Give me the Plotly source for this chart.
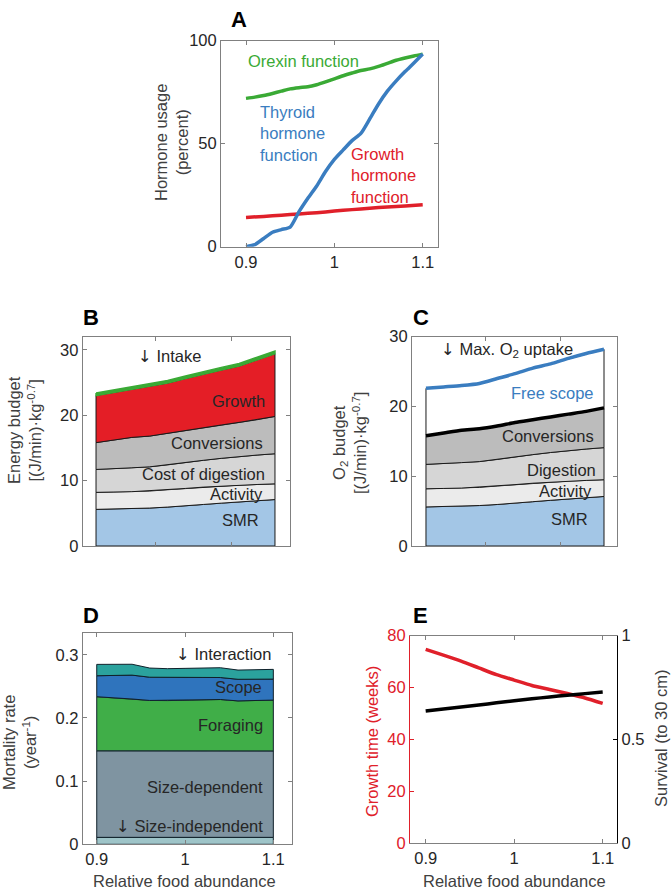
import plotly.graph_objects as go

# ---------------- data ----------------
x21 = [0.90, 0.91, 0.92, 0.93, 0.94, 0.95, 0.96, 0.97, 0.98, 0.99, 1.00,
       1.01, 1.02, 1.03, 1.04, 1.05, 1.06, 1.07, 1.08, 1.09, 1.10]
x11 = [0.90, 0.92, 0.94, 0.96, 0.98, 1.00, 1.02, 1.04, 1.06, 1.08, 1.10]

# Panel A
orexin = [72, 72.6, 73.4, 74.4, 75.5, 76.6, 77.2, 77.6, 78.6, 80, 81.5,
          83, 84.3, 85.5, 86.3, 87.5, 89, 90.5, 91.6, 92.6, 93.5]
thyroid = [0, 1.0, 4, 7, 8.3, 9.5, 17, 23.5, 29.5, 36.5, 42.4,
           47, 51.5, 55, 62, 69.3, 75.5, 80.5, 85, 89.2, 93.5]
growth_h = [14.2, 14.7, 15.3, 15.9, 16.5, 17.3, 18.0, 18.7, 19.3, 19.8, 20.4]

# Panel B (cumulative tops)
smr = [5.6, 5.65, 5.7, 5.8, 5.95, 6.1, 6.35, 6.55, 6.75, 6.95, 7.1]
activity = [8.2, 8.25, 8.3, 8.4, 8.6, 8.8, 9.0, 9.15, 9.3, 9.4, 9.5]
digestion = [11.7, 11.8, 11.95, 12.1, 12.4, 12.8, 13.1, 13.4, 13.7, 13.9, 14.1]
conversions = [15.8, 16.2, 16.6, 16.8, 17.2, 17.7, 18.1, 18.5, 18.9, 19.3, 19.8]
growth_e = [23.0, 23.5, 24.0, 24.4, 24.9, 25.6, 26.3, 26.9, 27.5, 28.4, 29.4]
intake = [23.4, 23.9, 24.4, 24.8, 25.3, 26.0, 26.7, 27.3, 27.9, 28.8, 29.8]

# Panel C
max_o2 = [22.6, 22.8, 23.0, 23.3, 24.0, 24.7, 25.5, 26.1, 26.9, 27.6, 28.2]

# Panel D (cumulative tops)
size_indep = [0.011] * 11
size_dep = [0.1480, 0.1480, 0.1479, 0.1478, 0.1478, 0.1479, 0.1480, 0.1480, 0.1479, 0.1478, 0.1478]
foraging = [0.2336, 0.2318, 0.2300, 0.2277, 0.2275, 0.2280, 0.2288, 0.2292, 0.2270, 0.2278, 0.2283]
scope = [0.2668, 0.2672, 0.2678, 0.2645, 0.2638, 0.2640, 0.2642, 0.2640, 0.2612, 0.2613, 0.2615]
interaction = [0.2848, 0.2845, 0.2850, 0.2790, 0.2780, 0.2785, 0.2792, 0.2795, 0.2758, 0.2765, 0.2769]

# Panel E
growth_time = [74.7, 72.5, 70.2, 67.6, 65.0, 62.9, 60.8, 59.3, 57.7, 56.0, 53.9]
survival = [0.637, 0.647, 0.657, 0.666, 0.677, 0.687, 0.696, 0.705, 0.713, 0.721, 0.729]

FONT = "Liberation Sans, Arial, sans-serif"
TXT = "#262626"
AX = "#808080"
GREEN = "#3aaa35"
BLUE = "#3a7dc0"
RED = "#e0202a"
FS = 16.5
ARROW = '<span style="font-family:DejaVu Sans">↓</span>'

fig = go.Figure()


def band(x, lo, hi, fill, xa, ya, lc="#1a1a1a", lw=1):
    xs = list(x) + list(x[::-1]) + [x[0]]
    ys = list(hi) + list(lo[::-1]) + [hi[0]]
    fig.add_trace(go.Scatter(x=xs, y=ys, mode="lines", fill="toself", fillcolor=fill,
                             line=dict(color=lc, width=lw), xaxis=xa, yaxis=ya,
                             hoverinfo="skip", showlegend=False))


def line(x, y, color, xa, ya, w=3.5):
    fig.add_trace(go.Scatter(x=x, y=y, mode="lines",
                             line=dict(color=color, width=w, shape="spline", smoothing=0.6),
                             xaxis=xa, yaxis=ya, hoverinfo="skip", showlegend=False))


zeros = [0] * 11

# Panel A
line(x21, orexin, GREEN, "x", "y")
line(x11, growth_h, RED, "x", "y")
line(x21, thyroid, BLUE, "x", "y")

# Panel B
band(x11, zeros, smr, "#a3c6e6", "x2", "y2")
band(x11, smr, activity, "#ebebeb", "x2", "y2")
band(x11, activity, digestion, "#d6d6d6", "x2", "y2")
band(x11, digestion, conversions, "#bcbcbc", "x2", "y2")
band(x11, conversions, growth_e, "#e41e26", "x2", "y2")
band(x11, growth_e, intake, GREEN, "x2", "y2", lc=GREEN, lw=1.5)

# Panel C
band(x11, zeros, smr, "#a3c6e6", "x3", "y3")
band(x11, smr, activity, "#ebebeb", "x3", "y3")
band(x11, activity, digestion, "#d6d6d6", "x3", "y3")
band(x11, digestion, conversions, "#bcbcbc", "x3", "y3")
band(x11, conversions, max_o2, "#ffffff", "x3", "y3")
line(x11, conversions, "#000000", "x3", "y3", w=3.5)
line(x11, max_o2, BLUE, "x3", "y3", w=3.5)

# Panel D
band(x11, zeros, size_indep, "#9ec4c8", "x4", "y4", lc="#10202a")
band(x11, size_indep, size_dep, "#7f94a1", "x4", "y4", lc="#10202a")
band(x11, size_dep, foraging, "#40ae48", "x4", "y4", lc="#10202a")
band(x11, foraging, scope, "#2f74bd", "x4", "y4", lc="#10202a")
band(x11, scope, interaction, "#2ba29d", "x4", "y4", lc="#10202a")

# Panel E
line(x11, growth_time, RED, "x5", "y5")
line(x11, survival, "#000000", "x5", "y6")

W, H = 671, 892


def dx(a, b):
    return [a / W, b / W]


def dy(top, bot):
    return [1 - bot / H, 1 - top / H]


tickfont = dict(family=FONT, size=FS, color=TXT)


def xax(dom, anchor, rng, tv, tt=None, labels=True):
    d = dict(domain=dom, anchor=anchor, range=rng, tickvals=tv,
             showticklabels=labels, showline=True, linecolor=AX, linewidth=1,
             mirror="ticks", ticks="inside", ticklen=4, tickcolor=AX,
             showgrid=False, zeroline=False, tickfont=tickfont, automargin=False)
    if tt is not None:
        d["ticktext"] = tt
    return d


def yax(dom, anchor, rng, tv, tt, color=AX, tfcolor=TXT, mirror="ticks"):
    return dict(domain=dom, anchor=anchor, range=rng, tickvals=tv, ticktext=tt,
                showline=True, linecolor=color, linewidth=1,
                mirror=mirror, ticks="inside", ticklen=4, tickcolor=color,
                showgrid=False, zeroline=False, automargin=False,
                tickfont=dict(family=FONT, size=FS, color=tfcolor))


xt = [0.9, 1.0, 1.1]
xtt = ["0.9", "1", "1.1"]

fig.update_layout(
    template="none",
    width=W, height=H, margin=dict(l=0, r=0, t=0, b=0, pad=0),
    paper_bgcolor="white", plot_bgcolor="white", showlegend=False,
    font=dict(family=FONT, color=TXT),
    xaxis=xax(dx(221, 438), "y", [0.8717, 1.1173], xt, xtt),
    yaxis=yax(dy(40.7, 246.7), "x", [0, 100], [0, 50, 100], ["0", "50", "100"]),
    xaxis2=xax(dx(82.7, 290), "y2", [0.8851, 1.1168], [0.967, 1.051], labels=False),
    yaxis2=yax(dy(337.3, 546), "x2", [0, 31.9], [0, 10, 20, 30], ["0", "10", "20", "30"]),
    xaxis3=xax(dx(412, 617), "y3", [0.8843, 1.1146], [0.967, 1.051], labels=False),
    yaxis3=yax(dy(336.7, 546), "x3", [0, 30], [0, 10, 20, 30], ["0", "10", "20", "30"]),
    xaxis4=xax(dx(82.7, 291.7), "y4", [0.8841, 1.1208], xt, xtt),
    yaxis4=yax(dy(633.3, 844.3), "x4", [0, 0.334], [0, 0.1, 0.2, 0.3], ["0", "0.1", "0.2", "0.3"]),
    xaxis5=xax(dx(410, 617.3), "y5", [0.8823, 1.1165], xt, xtt),
    yaxis5=yax(dy(635.7, 843.3), "x5", [0, 80], [0, 20, 40, 60, 80],
               ["0", "20", "40", "60", "80"], color=RED, tfcolor=RED, mirror=False),
    yaxis6=dict(domain=dy(635.7, 843.3), anchor="x5", overlaying="y5", side="right",
                range=[0, 1], tickvals=[0, 0.5, 1], ticktext=["0", "0.5", "1"],
                showline=True, linecolor="#000000", linewidth=1, ticks="inside",
                ticklen=4, tickcolor="#000000", showgrid=False, zeroline=False,
                automargin=False, tickfont=dict(family=FONT, size=FS, color=TXT)),
)

ann = []


def txt(x, y, s, xref, yref, color=TXT, size=FS, xanchor="right", yanchor="middle",
        angle=0, align="left", bold=False):
    ann.append(dict(x=x, y=y, xref=xref, yref=yref, text=("<b>%s</b>" % s) if bold else s,
                    showarrow=False, xanchor=xanchor, yanchor=yanchor, textangle=angle,
                    align=align, font=dict(family=FONT, size=size, color=color)))


# Panel A labels
txt(0.9, 90, "Orexin function", "x", "y", color=GREEN, xanchor="left")
txt(0.914, 55, "Thyroid<br>hormone<br>function", "x", "y", color=BLUE, xanchor="left")
txt(1.017, 34.8, "Growth<br>hormone<br>function", "x", "y", color=RED, xanchor="left")

# Panel B labels
txt(0.945, 28.9, ARROW + " Intake", "x2", "y2", xanchor="left")
txt(1.091, 22.1, "Growth", "x2", "y2")
txt(1.089, 15.8, "Conversions", "x2", "y2")
txt(1.091, 11.0, "Cost of digestion", "x2", "y2")
txt(1.089, 8.0, "Activity", "x2", "y2")
txt(1.084, 4.0, "SMR", "x2", "y2")

# Panel C labels
txt(0.915, 28.1, ARROW + " Max. O<sub>2</sub> uptake", "x3", "y3", xanchor="left")
txt(1.091, 21.9, "Free scope", "x3", "y3", color=BLUE)
txt(1.091, 15.7, "Conversions", "x3", "y3")
txt(1.093, 10.9, "Digestion", "x3", "y3")
txt(1.089, 7.9, "Activity", "x3", "y3")
txt(1.084, 3.9, "SMR", "x3", "y3")

# Panel D labels
txt(1.1, 0.300, ARROW + " Interaction", "x4", "y4")
txt(1.089, 0.249, "Scope", "x4", "y4")
txt(1.091, 0.189, "Foraging", "x4", "y4")
txt(1.091, 0.090, "Size-dependent", "x4", "y4")
txt(1.091, 0.028, ARROW + " Size-independent", "x4", "y4")

# Axis titles (paper coordinates)
AT = "#404040"
txt(172 / W, 1 - 143 / H, "Hormone usage<br>(percent)", "paper", "paper", color=AT,
    xanchor="center", angle=-90, align="center")
txt(25 / W, 1 - 430 / H, "Energy budget<br>[(J/min)·kg<sup>-0.7</sup>]", "paper", "paper",
    color=AT, xanchor="center", angle=-90, align="center")
txt(349 / W, 1 - 443 / H, "O<sub>2</sub> budget<br>[(J/min)·kg<sup>-0.7</sup>]", "paper", "paper",
    color=AT, xanchor="center", angle=-90, align="center")
txt(19 / W, 1 - 743 / H, "Mortality rate<br>(year<sup>-1</sup>)", "paper", "paper",
    color=AT, xanchor="center", angle=-90, align="center")
txt(372 / W, 1 - 742 / H, "Growth time (weeks)", "paper", "paper",
    color=RED, xanchor="center", angle=-90, align="center")
txt(661 / W, 1 - 738 / H, "Survival (to 30 cm)", "paper", "paper",
    color=AT, xanchor="center", angle=-90, align="center")
txt(185 / W, 1 - 881 / H, "Relative food abundance", "paper", "paper",
    color=AT, xanchor="center", align="center")
txt(514 / W, 1 - 881 / H, "Relative food abundance", "paper", "paper",
    color=AT, xanchor="center", align="center")

# Panel letters
for lx, ly, s in [(229, 20, "A"), (81, 317, "B"), (411, 317, "C"), (81, 615, "D"), (411, 615, "E")]:
    txt(lx / W, 1 - ly / H, s, "paper", "paper", color="#000000", size=22,
        xanchor="left", bold=True)

fig.update_layout(annotations=ann)
fig.write_html("out.html", config={"displayModeBar": False},
               post_script="document.body.style.margin='0px';")
